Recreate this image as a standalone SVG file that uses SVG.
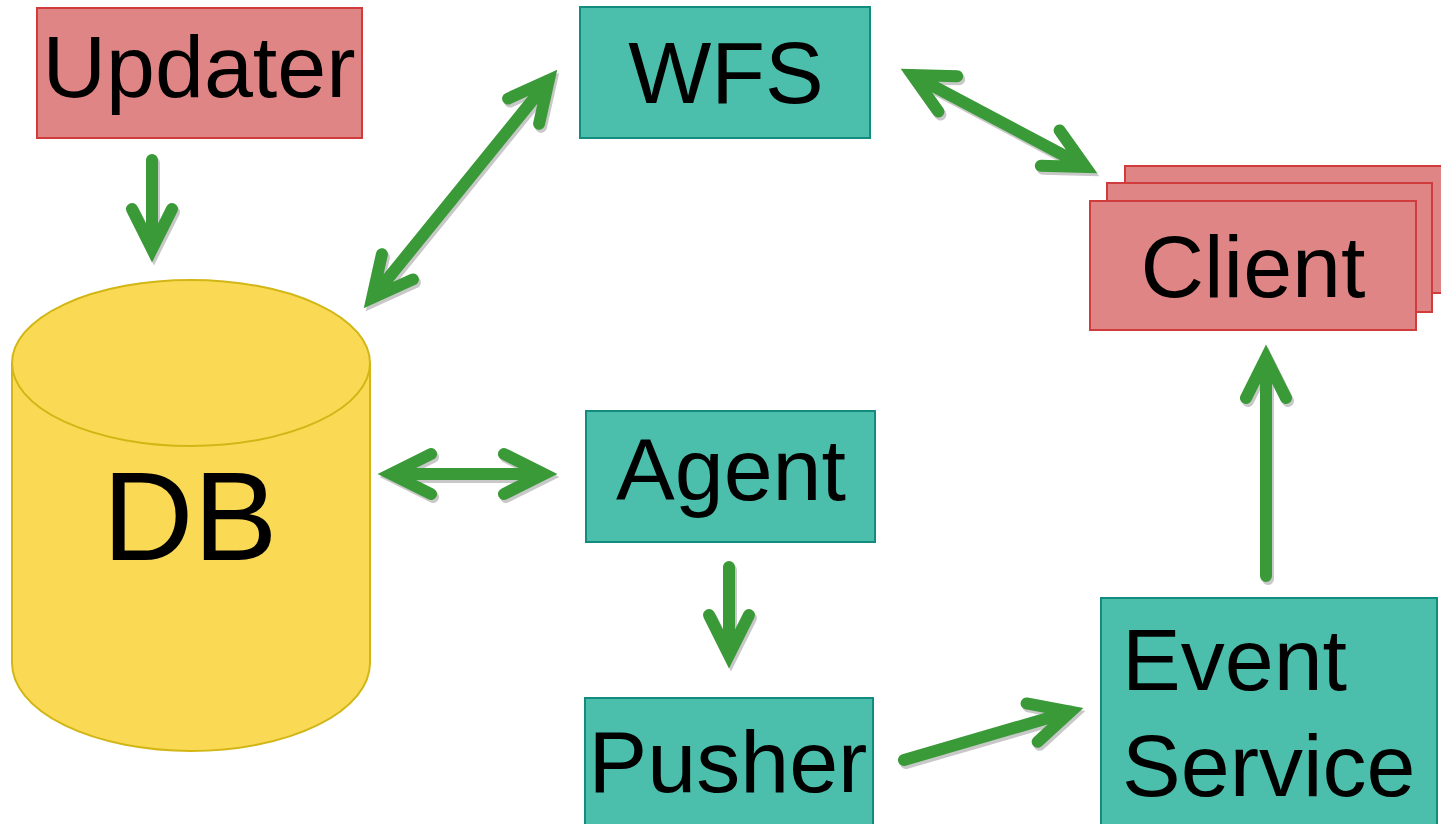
<svg xmlns="http://www.w3.org/2000/svg" width="1441" height="824" viewBox="0 0 1441 824">
  <defs>
    <style>
      .red { fill: #E08585; stroke: #D03B3B; stroke-width: 2; }
      .teal { fill: #4BBFAC; stroke: #138C80; stroke-width: 2; }
      .db { fill: #FADA55; stroke: #D2B615; stroke-width: 2; }
      .lbl { font-family: "Liberation Sans", Arial, sans-serif; font-size: 88px; fill: #000; }
      .arrow { fill: none; stroke: #3A9A38; stroke-width: 12; stroke-linecap: round; stroke-linejoin: miter; stroke-miterlimit: 10; }
      .shadow { fill: none; stroke: #C8C8C8; stroke-width: 12; stroke-linecap: round; stroke-linejoin: miter; stroke-miterlimit: 10; }
    </style>
    <!-- connector geometry: shaft plus open chevron heads (mitred points) -->
    <g id="arrow-shapes">
      <!-- Updater -> DB -->
      <path d="M152,160 L152,249 M132,209 L152,249 L172,209"/>
      <!-- DB <-> WFS -->
      <path d="M372.2,297.9 L548.8,80.1 M539.1,123.8 L548.8,80.1 L508.1,98.6 M412.9,279.4 L372.2,297.9 L381.9,254.2"/>
      <!-- WFS <-> Client -->
      <path d="M912.5,75.1 L1085.5,166.9 M1040.8,165.8 L1085.5,166.9 L1059.6,130.4 M938.4,111.6 L912.5,75.1 L957.2,76.2"/>
      <!-- DB <-> Agent -->
      <path d="M391,474 L544,474 M504,454 L544,474 L504,494 M431,454 L391,474 L431,494"/>
      <!-- Agent -> Pusher -->
      <path d="M729,567 L729,655 M709,615 L729,655 L749,615"/>
      <!-- Pusher -> Event Service -->
      <path d="M904,760 L1070.5,711.6 M1037.6,741.8 L1070.5,711.6 L1026.6,703.4"/>
      <!-- Event Service -> Client -->
      <path d="M1266,576 L1266,358 M1246,398 L1266,358 L1286,398"/>
    </g>
  </defs>
  <rect width="1441" height="824" fill="#FFFFFF"/>

  <g id="updater">
    <rect class="red" x="37" y="8" width="325" height="130"/>
    <text class="lbl" x="199" y="97" text-anchor="middle">Updater</text>
  </g>

  <g id="wfs">
    <rect class="teal" x="580" y="7" width="290" height="131"/>
    <text class="lbl" x="726" y="103" text-anchor="middle">WFS</text>
  </g>

  <g id="client">
    <rect class="red" x="1125" y="166" width="318" height="127"/>
    <rect class="red" x="1107" y="183" width="325" height="129"/>
    <rect class="red" x="1090" y="201" width="326" height="129"/>
    <text class="lbl" x="1253" y="297" text-anchor="middle">Client</text>
  </g>

  <g id="db">
    <path class="db" d="M12,363 L12,663 A179,88 0 0 0 370,663 L370,363 Z"/>
    <ellipse class="db" cx="191" cy="363" rx="179" ry="83"/>
    <text class="lbl" x="190" y="560" text-anchor="middle" style="font-size:126px">DB</text>
  </g>

  <g id="agent">
    <rect class="teal" x="586" y="411" width="289" height="131"/>
    <text class="lbl" x="731" y="500" text-anchor="middle">Agent</text>
  </g>

  <g id="pusher">
    <rect class="teal" x="585" y="698" width="288" height="140"/>
    <text class="lbl" x="728" y="792" text-anchor="middle">Pusher</text>
  </g>

  <g id="event-service">
    <rect class="teal" x="1101" y="598" width="336" height="240"/>
    <text class="lbl" x="1122" y="690">Event</text>
    <text class="lbl" x="1122" y="796">Service</text>
  </g>

  <g id="connectors">
    <use href="#arrow-shapes" class="shadow" transform="translate(2,3)"/>
    <use href="#arrow-shapes" class="arrow"/>
  </g>
</svg>
